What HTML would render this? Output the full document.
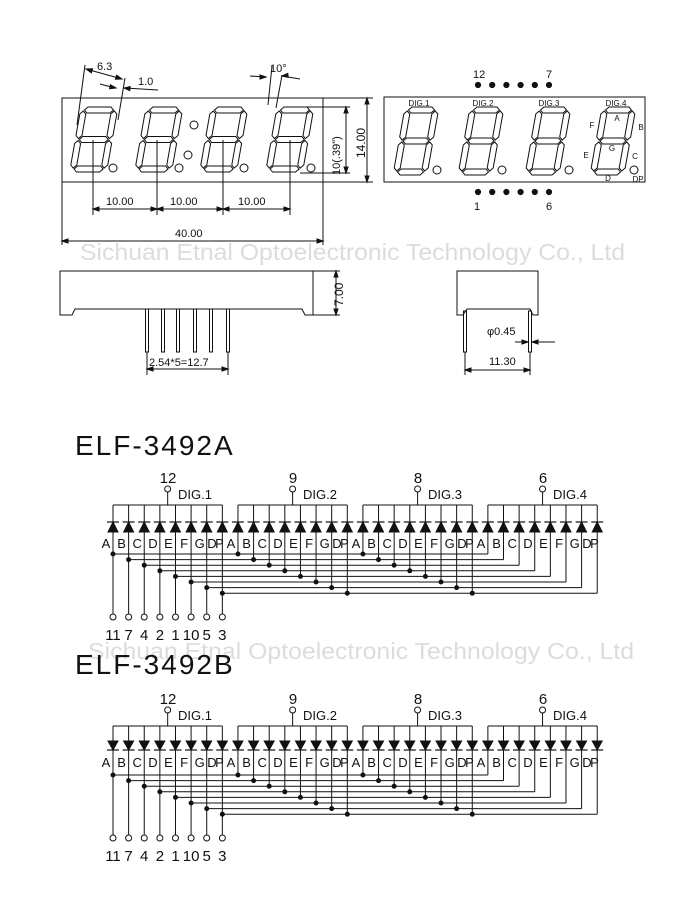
<!DOCTYPE html>
<html><head><meta charset="utf-8"><style>
html,body{margin:0;padding:0;background:#fff}
svg{display:block;font-family:"Liberation Sans",sans-serif}
</style></head><body>
<svg id="s" width="700" height="900" viewBox="0 0 700 900" xmlns="http://www.w3.org/2000/svg">
<g fill="#dcdcdc" font-size="23">
<text x="80" y="260" textLength="545" lengthAdjust="spacingAndGlyphs">Sichuan Etnal Optoelectronic Technology Co., Ltd</text>
<text x="88" y="659" textLength="546" lengthAdjust="spacingAndGlyphs">Sichuan Etnal Optoelectronic Technology Co., Ltd</text>
</g>
<g id="draw" fill="none" stroke="#111" stroke-width="1"></g>
<g fill="#111" font-size="11">
<text x="97" y="70">6.3</text>
<text x="138" y="85">1.0</text>
<text x="270" y="72">10°</text>
<text x="106" y="205">10.00</text>
<text x="170" y="205">10.00</text>
<text x="238" y="205">10.00</text>
<text x="175" y="237">40.00</text>
<text transform="translate(340,175) rotate(-90)">10(.39")</text>
<text transform="translate(365,158) rotate(-90)" font-size="12">14.00</text>
<text transform="translate(343,306) rotate(-90)" font-size="12">7.00</text>
<text x="149" y="366">2.54*5=12.7</text>
<text x="487" y="335">φ0.45</text>
<text x="489" y="365">11.30</text>
<text x="473" y="78">12</text><text x="546" y="78">7</text>
<text x="474" y="210">1</text><text x="546" y="210">6</text>
</g>
<g fill="#111" font-size="8" text-anchor="middle">
<text x="419" y="106">DIG.1</text><text x="483" y="106">DIG.2</text><text x="549" y="106">DIG.3</text><text x="616" y="106">DIG.4</text>
<text x="617" y="121">A</text><text x="641" y="130">B</text><text x="592" y="128">F</text><text x="612" y="151">G</text><text x="586" y="158">E</text><text x="635" y="159">C</text><text x="608" y="181">D</text><text x="638" y="182">DP</text>
</g>
<g fill="#111" font-size="28" letter-spacing="2">
<text x="75" y="455">ELF-3492A</text>
<text x="75" y="674">ELF-3492B</text>
</g>
<g fill="#111" font-size="13" text-anchor="middle">
<text x="106 121.6 137.2 152.9 168.5 184.1 199.7 212 219.5 231 246.6 262.2 277.9 293.5 309.1 324.7 337 344.5 356 371.6 387.2 402.9 418.5 434.1 449.7 462 469.5 481 496.6 512.2 527.9 543.5 559.1 574.7 587 594.5" y="548">ABCDEFGDPABCDEFGDPABCDEFGDPABCDEFGDP</text>
<text x="106 121.6 137.2 152.9 168.5 184.1 199.7 212 219.5 231 246.6 262.2 277.9 293.5 309.1 324.7 337 344.5 356 371.6 387.2 402.9 418.5 434.1 449.7 462 469.5 481 496.6 512.2 527.9 543.5 559.1 574.7 587 594.5" y="767">ABCDEFGDPABCDEFGDPABCDEFGDPABCDEFGDP</text>
<g font-size="15">
<text x="168" y="483">12</text><text x="293" y="483">9</text><text x="418" y="483">8</text><text x="543" y="483">6</text>
<text x="168" y="704">12</text><text x="293" y="704">9</text><text x="418" y="704">8</text><text x="543" y="704">6</text>
<text x="113" y="640">11</text><text x="128.6" y="640">7</text><text x="144.2" y="640">4</text><text x="159.9" y="640">2</text><text x="175.5" y="640">1</text><text x="191.1" y="640">10</text><text x="206.7" y="640">5</text><text x="222.3" y="640">3</text>
<text x="113" y="861">11</text><text x="128.6" y="861">7</text><text x="144.2" y="861">4</text><text x="159.9" y="861">2</text><text x="175.5" y="861">1</text><text x="191.1" y="861">10</text><text x="206.7" y="861">5</text><text x="222.3" y="861">3</text>
</g>
</g>
<g fill="#111" font-size="13">
<text x="178" y="499">DIG.1</text><text x="303" y="499">DIG.2</text><text x="428" y="499">DIG.3</text><text x="553" y="499">DIG.4</text>
<text x="178" y="720">DIG.1</text><text x="303" y="720">DIG.2</text><text x="428" y="720">DIG.3</text><text x="553" y="720">DIG.4</text>
</g>
</svg>
<script>
var g=document.getElementById('draw'),NS='http://www.w3.org/2000/svg';
function el(t,a){var e=document.createElementNS(NS,t);for(var k in a)e.setAttribute(k,a[k]);g.appendChild(e);return e;}
function L(x1,y1,x2,y2,w){el('line',{x1:x1,y1:y1,x2:x2,y2:y2,'stroke-width':w||1});}
function C(x,y,r,f){el('circle',{cx:x,cy:y,r:r,fill:f||'none'});}
function P(pts,f){el('polygon',{points:pts,fill:f||'none'});}
function arrow(x,y,dx,dy){var l=6,w=2;var px=-dy,py=dx;P((x)+','+(y)+' '+(x-dx*l+px*w)+','+(y-dy*l+py*w)+' '+(x-dx*l-px*w)+','+(y-dy*l-py*w),'#111');}
function digit(x0,y0,W,H,t){
 var sk=Math.tan(10*Math.PI/180);
 function T(x,y){return (x0+x-y*sk).toFixed(1)+','+(y0+y).toFixed(1);}
 function hs(y,a,b){return [T(a,y),T(a+t/2,y-t/2),T(b-t/2,y-t/2),T(b,y),T(b-t/2,y+t/2),T(a+t/2,y+t/2)].join(' ');}
 function vs(x,a,b){return [T(x,a),T(x+t/2,a+t/2),T(x+t/2,b-t/2),T(x,b),T(x-t/2,b-t/2),T(x-t/2,a+t/2)].join(' ');}
 var m=H/2;
 P(hs(t/2,t/2+1,W-t/2-1));P(hs(m,t/2+1,W-t/2-1));P(hs(H-t/2,t/2+1,W-t/2-1));
 P(vs(t/2,t/2+1,m-1));P(vs(W-t/2,t/2+1,m-1));P(vs(t/2,m+1,H-t/2-1));P(vs(W-t/2,m+1,H-t/2-1));
}
el('rect',{x:62,y:98,width:261,height:84});
[81,146,211,277].forEach(function(x){digit(x,107,37,65,6);});
[115,181,246,313].forEach(function(x){C(x-2,168,4);});
C(194,125,4);C(188,155,4);
L(323,98,373,98);L(323,182,373,182);L(300,107,350,107);L(300,173,350,173);
L(367,98,367,182);arrow(367,98,0,-1);arrow(367,182,0,1);
L(346,107,346,173);arrow(346,107,0,-1);arrow(346,173,0,1);
[93,157,223,290].forEach(function(x){L(x,140,x,215);});
L(93,209,290,209);arrow(93,209,-1,0);arrow(157,209,1,0);arrow(157,209,-1,0);arrow(223,209,1,0);arrow(223,209,-1,0);arrow(290,209,1,0);
L(62,182,62,245);L(323,182,323,245);L(62,241,323,241);arrow(62,241,-1,0);arrow(323,241,1,0);
L(85,65,77,125);L(125,78,118,120);L(86,69,122,79);arrow(86,69,-1,-0.3);arrow(122,79,1,0.3);
L(100,84,115,88);L(124,88,158,90);arrow(116,88,1,0.2);arrow(124,88,-1,-0.1);
L(272,66,268,105);L(282,75,276,108);L(250,76,266,77);L(282,76,300,79);arrow(266,77,1,0);arrow(282,76,-1,0.1);
el('rect',{x:384,y:97,width:261,height:85});
[405,470,537,602].forEach(function(x){digit(x,107,34,68,6);C(x+32,170,4);});
for(var i=0;i<6;i++){C(478+14.2*i,85,2.6,'#111');C(478+14.2*i,192,2.6,'#111');}
el('path',{d:'M60,315 L60,271 L313,271 L313,315 L305,315 L302,309 L75,309 L72,315 Z'});
L(313,271,340,271);L(313,315,340,315);L(336,271,336,315);arrow(336,271,0,-1);arrow(336,315,0,1);
[147,163,178,195,211,228].forEach(function(x){el('rect',{x:x-1.5,y:309,width:3,height:43});});
L(147,352,147,375);L(228,352,228,375);L(147,369,228,369);arrow(147,369,-1,0);arrow(228,369,1,0);
el('path',{d:'M457,315 L457,271 L538,271 L538,315 L533,315 L530,309 L467,309 L463,315 Z'});
el('rect',{x:463.5,y:311,width:3,height:41});el('rect',{x:528.5,y:311,width:3,height:41});
L(465,352,465,375);L(530,352,530,375);L(465,370,530,370);arrow(465,370,-1,0);arrow(530,370,1,0);
L(515,342,528,342);L(532,342,555,342);arrow(528,342,1,0);arrow(532,342,-1,0);
function circ(o,up){
 for(var k=0;k<4;k++){
  var b=113+124.96*k, cp=b+3.5*15.62;
  L(b,505+o,b+7*15.62,505+o);L(cp,492+o,cp,505+o);C(cp,489+o,3,'#fff');
  for(var s=0;s<8;s++){
   var x=b+15.62*s, ys=554+5.6*s+o;
   L(x,505+o,x,ys);
   if(up){P(x+','+(522+o)+' '+(x-5)+','+(532+o)+' '+(x+5)+','+(532+o),'#111');L(x-6,522+o,x+6,522+o,1.2);}
   else{P((x-5)+','+(520+o)+' '+(x+5)+','+(520+o)+' '+x+','+(529+o),'#111');L(x-6,529+o,x+6,529+o,1.2);}
   if(k<3)C(x,ys,2,'#111');
   if(k==0){L(x,ys,x,614+o);C(x,617+o,3,'#fff');L(x,ys,597.2-15.62*(7-s),ys);}
  }
 }
}
circ(0,true);circ(221,false);
</script>
</body></html>
